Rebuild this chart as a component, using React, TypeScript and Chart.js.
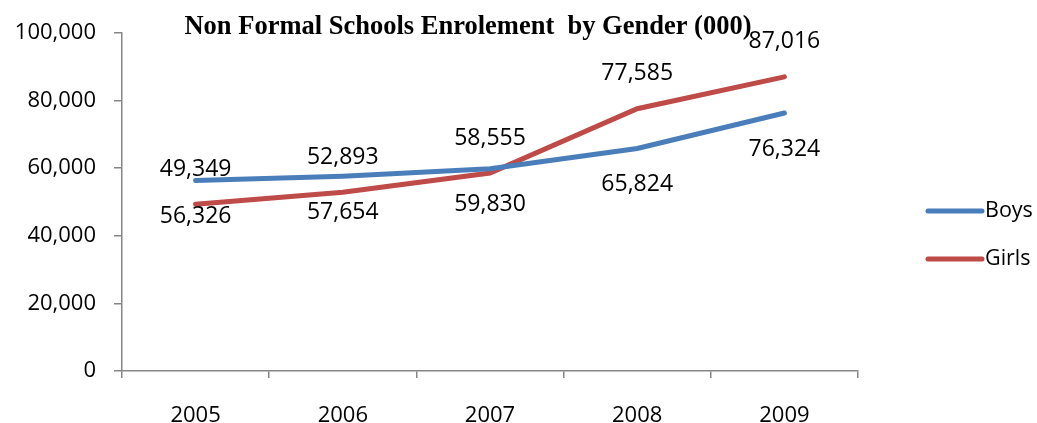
import React, { useEffect, useRef } from "react";
import { Chart, registerables } from "chart.js";

Chart.register(...registerables);

const years = ["2005", "2006", "2007", "2008", "2009"];
const boys = [56326, 57654, 59830, 65824, 76324];
const girls = [49349, 52893, 58555, 77585, 87016];
const yTicks = [0, 20000, 40000, 60000, 80000, 100000];
const titleText = "Non Formal Schools Enrolement  by Gender (000)";

const BLUE = "#4A7EBB";
const RED = "#BE4B48";
const AXIS = "#868686";
const FONT = "'Open Sans', sans-serif";

const fmt = (v: number) => v.toLocaleString("en-US");

const overlay = {
  id: "overlay",
  afterDraw(chart: any) {
    const ctx = chart.ctx;
    ctx.save();
    // data labels
    ctx.font = `23px ${FONT}`;
    ctx.fillStyle = "#000";
    ctx.textAlign = "center";
    ctx.textBaseline = "middle";
    chart.data.datasets.forEach((ds: any, di: number) => {
      const meta = chart.getDatasetMeta(di);
      const off = ds.labelOffset;
      meta.data.forEach((pt: any, i: number) => {
        ctx.fillText(fmt(ds.data[i]), pt.x, pt.y + off);
      });
    });
    // title
    ctx.font = `bold 26.5px 'Liberation Serif', 'Times New Roman', serif`;
    ctx.fillStyle = "#000";
    ctx.textAlign = "center";
    ctx.textBaseline = "middle";
    ctx.fillText(titleText, 468, 27);
    // legend
    const lx = 928;
    chart.data.datasets.forEach((ds: any, di: number) => {
      const y = 211 + di * 48;
      ctx.strokeStyle = ds.borderColor;
      ctx.lineWidth = 5;
      ctx.lineCap = "round";
      ctx.beginPath();
      ctx.moveTo(lx, y);
      ctx.lineTo(lx + 54, y);
      ctx.stroke();
      ctx.font = `21.5px ${FONT}`;
      ctx.fillStyle = "#000";
      ctx.textAlign = "left";
      ctx.fillText(ds.label, lx + 57, y);
    });
    ctx.restore();
  },
};

export default function App() {
  const ref = useRef<HTMLCanvasElement>(null);
  useEffect(() => {
    document.body.style.margin = "0";
    const chart = new Chart(ref.current!, {
      type: "line",
      data: {
        labels: years,
        datasets: [
          {
            label: "Boys",
            data: boys,
            borderColor: BLUE,
            backgroundColor: BLUE,
            borderWidth: 5,
            borderCapStyle: "round",
            pointRadius: 0,
            tension: 0,
            labelOffset: 36,
          } as any,
          {
            label: "Girls",
            data: girls,
            borderColor: RED,
            backgroundColor: RED,
            borderWidth: 5,
            borderCapStyle: "round",
            pointRadius: 0,
            tension: 0,
            labelOffset: -35,
          } as any,
        ],
      },
      options: {
        animation: false,
        responsive: false,
        layout: { padding: { top: 33, right: 179, left: 0, bottom: 0 } },
        plugins: {
          legend: { display: false },
          title: { display: false },
          tooltip: { enabled: false },
        },
        scales: {
          x: {
            offset: true,
            grid: {
              offset: true,
              drawOnChartArea: false,
              drawTicks: true,
              tickLength: 7,
              color: AXIS,
              lineWidth: 1.5,
            },
            border: { color: AXIS, width: 1.5 },
            ticks: {
              color: "#000",
              font: { family: "'Open Sans', sans-serif", size: 22 },
              padding: 25,
              maxRotation: 0,
            },
            afterFit: (s: any) => {
              s.height = 52;
            },
          },
          y: {
            min: 0,
            max: 100000,
            afterBuildTicks: (s: any) => {
              s.ticks = yTicks.map((v) => ({ value: v }));
            },
            grid: {
              drawOnChartArea: false,
              drawTicks: true,
              tickLength: 8,
              color: AXIS,
              lineWidth: 1.5,
            },
            border: { color: AXIS, width: 1.5 },
            ticks: {
              color: "#000",
              font: { family: "'Open Sans', sans-serif", size: 22 },
              padding: 18,
              callback: (v: any) => fmt(Number(v)),
            },
            afterFit: (s: any) => {
              s.width = 122;
            },
          },
        },
      },
      plugins: [overlay],
    });
    return () => chart.destroy();
  }, []);
  return (
    <div style={{ position: "fixed", left: 0, top: 0, width: 1037, height: 423, background: "#fff" }}>
      <canvas ref={ref} width={1037} height={423} style={{ width: 1037, height: 423 }} />
    </div>
  );
}
